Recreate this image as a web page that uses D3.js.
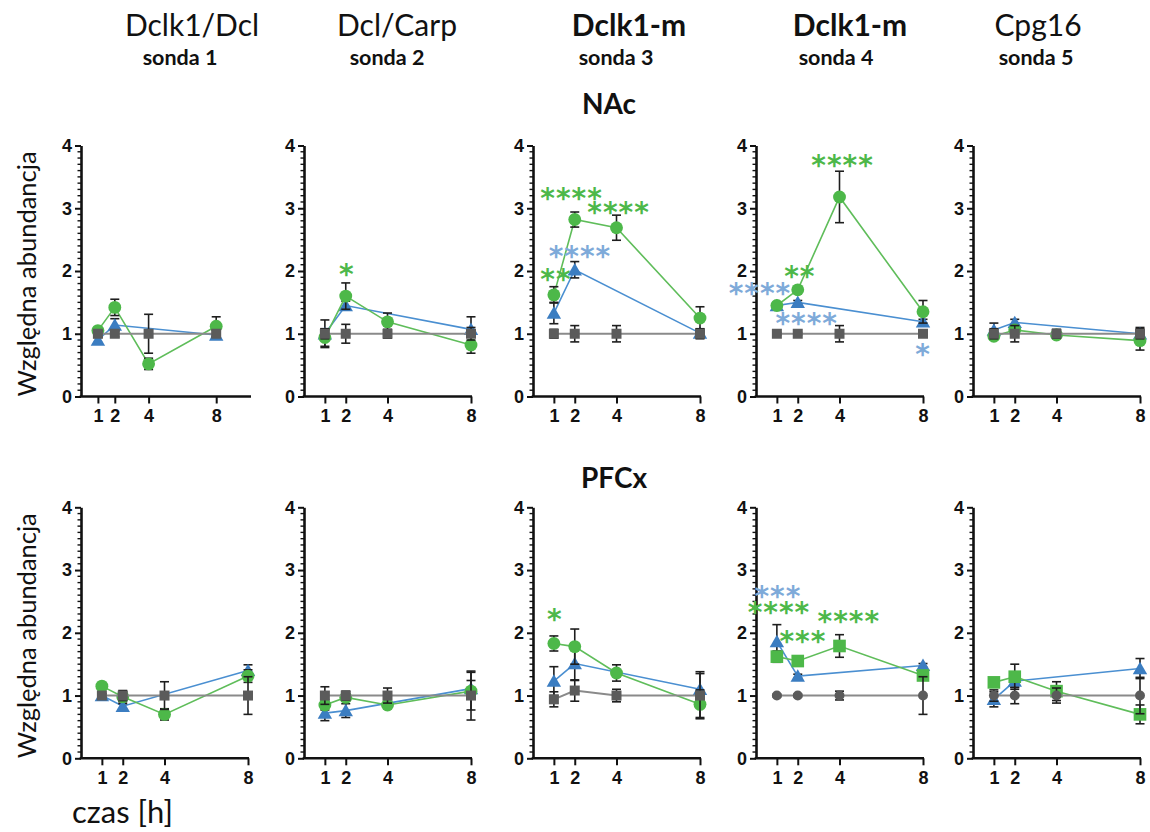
<!DOCTYPE html>
<html>
<head>
<meta charset="utf-8">
<script src="https://cdn.jsdelivr.net/npm/d3@7"></script>
<style>
  body { margin: 0; background: #fff; }
  svg { display: block; }
</style>
</head>
<body>
<svg id="chart" width="1150" height="832"></svg>
<script>
// ---- data ----
const times = [1, 2, 4, 8];
const probeNames = ["Dclk1/Dcl", "Dcl/Carp", "Dclk1-m", "Dclk1-m", "Cpg16"];
const probeLabels = ["sonda 1", "sonda 2", "sonda 3", "sonda 4", "sonda 5"];
const regions = ["NAc", "PFCx"];
const yTicks = [0, 1, 2, 3, 4];
const yLabel = "Względna abundancja";
const xLabel = "czas [h]";

// NAc (top row), one array of 4 time points per probe
const nacCtrl = [[1, 1, 1, 1], [1, 1, 1, 1], [1, 1, 1, 1], [1, 1, 1, 1], [1, 1, 1, 1]];
const nacCtrlErr = [[0.05, 0.05, 0.31, 0.05], [0.08, 0.15, 0.07, 0.1], [0.07, 0.13, 0.13, 0.08], [0.02, 0.02, 0.13, 0.02], [0.08, 0.13, 0.07, 0.08]];
const nacBlue = [[0.9, 1.14, null, 0.98], [1.0, 1.45, null, 1.07], [1.33, 2.02, null, 1.01], [1.45, 1.5, null, 1.19], [1.06, 1.18, null, 1.0]];
const nacBlueErr = [[0.04, 0.1, null, 0.03], [0.22, 0.07, null, 0.2], [0.17, 0.13, null, 0.06], [0.03, 0.03, null, 0.04], [0.11, 0.05, null, 0.1]];
const nacGreen = [[1.05, 1.42, 0.52, 1.12], [0.94, 1.6, 1.19, 0.82], [1.62, 2.82, 2.69, 1.25], [1.45, 1.7, 3.18, 1.35], [0.96, 1.06, 0.98, 0.89]];
const nacGreenErr = [[0.04, 0.13, 0.09, 0.15], [0.14, 0.21, 0.14, 0.13], [0.13, 0.12, 0.2, 0.18], [0.03, 0.03, 0.41, 0.18], [0.04, 0.06, 0.05, 0.15]];

// PFCx (bottom row)
const pfcCtrl = [[1, 1, 1, 1], [1, 1, 1, 1], [0.94, 1.08, 1.0, 1.0], [1, 1, 1, 1], [1, 1, 1, 1]];
const pfcCtrlErr = [[0.03, 0.08, 0.22, 0.3], [0.14, 0.07, 0.12, 0.39], [0.12, 0.17, 0.1, 0.35], [0.02, 0.02, 0.07, 0.3], [0.09, 0.13, 0.12, 0.29]];
const pfcBlue = [[1.0, 0.83, null, 1.4], [0.72, 0.76, null, 1.11], [1.23, 1.51, null, 1.1], [1.86, 1.31, null, 1.48], [0.94, 1.23, null, 1.43]];
const pfcBlueErr = [[0.03, 0.04, null, 0.09], [0.12, 0.11, null, 0.13], [0.23, 0.27, null, 0.28], [0.27, 0.03, null, 0.03], [0.12, 0.1, null, 0.16]];
const pfcGreen = [[1.15, 0.98, 0.7, 1.31], [0.85, 0.97, 0.85, 1.07], [1.83, 1.78, 1.36, 0.86], [1.62, 1.55, 1.79, 1.32], [1.21, 1.3, 1.07, 0.7]];
const pfcGreenErr = [[0.03, 0.08, 0.09, 0.1], [0.08, 0.06, 0.03, 0.3], [0.12, 0.28, 0.13, 0.23], [0.09, 0.03, 0.18, 0.05], [0.03, 0.2, 0.15, 0.15]];

// significance marks: panel index, time position, value position, label, series
const nacStars = [
  { panel: 1, t: 2, v: 2.05, text: "*", series: "green" },
  { panel: 2, t: 1.8, v: 3.26, text: "****", series: "green" },
  { panel: 2, t: 4.05, v: 3.04, text: "****", series: "green" },
  { panel: 2, t: 2.2, v: 2.33, text: "****", series: "blue" },
  { panel: 2, t: 1.05, v: 1.97, text: "**", series: "green" },
  { panel: 3, t: 4.1, v: 3.78, text: "****", series: "green" },
  { panel: 3, t: 2.05, v: 2.02, text: "**", series: "green" },
  { panel: 3, t: 0.14, v: 1.75, text: "****", series: "blue" },
  { panel: 3, t: 2.38, v: 1.27, text: "****", series: "blue" },
  { panel: 3, t: 7.95, v: 0.77, text: "*", series: "blue" }
];
const pfcStars = [
  { panel: 2, t: 1, v: 2.32, text: "*", series: "green" },
  { panel: 3, t: 1.0, v: 2.68, text: "***", series: "blue" },
  { panel: 3, t: 1.05, v: 2.43, text: "****", series: "green" },
  { panel: 3, t: 4.4, v: 2.28, text: "****", series: "green" },
  { panel: 3, t: 2.2, v: 1.97, text: "***", series: "green" }
];

// ---- layout & style ----
const svg = d3.select("#chart");
const colors = {
  ctrl: { mark: "#5b5b5b", line: "#8a8a8a" },
  blue: { mark: "#3b7dc1", line: "#4a8fd1", star: "#7eaad9" },
  green: { mark: "#4db849", line: "#5fbd5a", star: "#4db849" }
};
const panelLeft = [81, 304, 533, 756, 973];
const titleCenter = [192, 397, 629, 850, 1038];
const labelCenter = [180, 387, 616, 836, 1036];
const rows = [
  { name: regions[0], yRange: [396.5, 145.5], xMax: [10, 8, 8, 8, 8], ctrl: nacCtrl, ctrlErr: nacCtrlErr, blue: nacBlue, blueErr: nacBlueErr, green: nacGreen, greenErr: nacGreenErr, stars: nacStars,
    ctrlShape: ["square", "square", "square", "square", "square"], greenShape: ["circle", "circle", "circle", "circle", "circle"], titleX: 609, titleY: 114 },
  { name: regions[1], yRange: [758.3, 507.3], xMax: [8, 8, 8, 8, 8], ctrl: pfcCtrl, ctrlErr: pfcCtrlErr, blue: pfcBlue, blueErr: pfcBlueErr, green: pfcGreen, greenErr: pfcGreenErr, stars: pfcStars,
    ctrlShape: ["square", "square", "square", "circle", "circle"], greenShape: ["circle", "circle", "circle", "square", "square"], titleX: 614, titleY: 488 }
];

const symbolFor = {
  circle: d3.symbol().type(d3.symbolCircle).size(130),
  smallCircle: d3.symbol().type(d3.symbolCircle).size(78),
  square: d3.symbol().type(d3.symbolSquare).size(100),
  bigSquare: d3.symbol().type(d3.symbolSquare).size(160),
  triangle: d3.symbol().type(d3.symbolTriangle).size(90)
};

// column titles
probeNames.forEach((name, i) => {
  svg.append("text")
    .attr("x", titleCenter[i]).attr("y", 36)
    .attr("text-anchor", "middle")
    .style("font-family", "Lato, 'Open Sans', sans-serif")
    .style("font-size", "30px")
    .style("font-weight", i === 2 || i === 3 ? 700 : 400)
    .attr("fill", "#111")
    .text(name);
  svg.append("text")
    .attr("x", labelCenter[i]).attr("y", 65)
    .attr("text-anchor", "middle")
    .style("font-family", "Lato, 'Open Sans', sans-serif")
    .style("font-size", "21.5px")
    .style("font-weight", 700)
    .attr("fill", "#111")
    .text(probeLabels[i]);
});

rows.forEach((row) => {
  svg.append("text")
    .attr("x", row.titleX).attr("y", row.titleY)
    .attr("text-anchor", "middle")
    .style("font-family", "Lato, 'Open Sans', sans-serif")
    .style("font-size", "28px")
    .style("font-weight", 700)
    .attr("fill", "#111")
    .text(row.name);

  const yMid = (row.yRange[0] + row.yRange[1]) / 2;
  svg.append("text")
    .attr("transform", `translate(36,${yMid + 3}) rotate(-90)`)
    .attr("text-anchor", "middle")
    .style("font-family", "Lato, 'Open Sans', sans-serif")
    .style("font-size", "25.5px")
    .attr("fill", "#111")
    .text(yLabel);

  probeNames.forEach((_, p) => {
    const left = panelLeft[p];
    const width = row.xMax[p] === 10 ? 169 : 167;
    const x = d3.scaleLinear().domain([0, row.xMax[p]]).range([left, left + width]);
    const y = d3.scaleLinear().domain([0, 4]).range(row.yRange);
    const g = svg.append("g");

    // minor ticks on y (every 0.1)
    const minor = d3.range(1, 40).filter((k) => k % 10 !== 0).map((k) => k / 10);
    g.append("g")
      .selectAll("line")
      .data(minor)
      .join("line")
      .attr("x1", left - 3.5).attr("x2", left)
      .attr("y1", (d) => y(d)).attr("y2", (d) => y(d))
      .attr("stroke", "#111")
      .attr("stroke-width", 1.4);

    // major y axis
    g.append("g")
      .attr("transform", `translate(${left},0)`)
      .call(d3.axisLeft(y).tickValues(yTicks).tickFormat(d3.format("d")).tickSize(6).tickSizeOuter(0).tickPadding(3))
      .call((a) => a.select(".domain").attr("stroke", "#111").attr("stroke-width", 2.6))
      .call((a) => a.selectAll(".tick line").attr("stroke", "#111").attr("stroke-width", 2))
      .call((a) => a.selectAll("text").attr("fill", "#111").style("font-family", "'Liberation Sans', Arial, sans-serif").style("font-size", "18px").style("font-weight", 700));

    // x axis
    g.append("g")
      .attr("transform", `translate(0,${row.yRange[0]})`)
      .call(d3.axisBottom(x).tickValues(times).tickSize(7).tickSizeOuter(0).tickPadding(6))
      .call((a) => a.select(".domain").attr("stroke", "#111").attr("stroke-width", 2.6).attr("d", `M${left - 1.3},0H${x(row.xMax[p]) + 1}`))
      .call((a) => a.selectAll(".tick line").attr("stroke", "#111").attr("stroke-width", 2))
      .call((a) => a.selectAll("text").attr("fill", "#111").style("font-family", "'Liberation Sans', Arial, sans-serif").style("font-size", "18px").style("font-weight", 700));

    const seriesList = [
      { key: "blue", values: row.blue[p], err: row.blueErr[p], shape: "triangle" },
      { key: "green", values: row.green[p], err: row.greenErr[p], shape: row.greenShape[p] === "square" ? "bigSquare" : "circle" },
      { key: "ctrl", values: row.ctrl[p], err: row.ctrlErr[p], shape: row.ctrlShape[p] === "circle" ? "smallCircle" : "square" }
    ];

    seriesList.forEach((s) => {
      const pts = times.map((t, i) => ({ t, v: s.values[i], e: s.err[i] })).filter((d) => d.v !== null);
      const line = d3.line().x((d) => x(d.t)).y((d) => y(d.v));
      g.append("path")
        .attr("d", line(pts))
        .attr("fill", "none")
        .attr("stroke", colors[s.key].line)
        .attr("stroke-width", s.key === "ctrl" ? 2 : 1.6);

      const eb = g.append("g").attr("stroke", "#1e1e1e").attr("stroke-width", 1.6);
      pts.forEach((d) => {
        const cx = x(d.t);
        const y1 = y(d.v + d.e), y0 = y(d.v - d.e);
        eb.append("line").attr("x1", cx).attr("x2", cx).attr("y1", y1).attr("y2", y0);
        eb.append("line").attr("x1", cx - 4.5).attr("x2", cx + 4.5).attr("y1", y1).attr("y2", y1);
        eb.append("line").attr("x1", cx - 4.5).attr("x2", cx + 4.5).attr("y1", y0).attr("y2", y0);
      });

      g.selectAll(null)
        .data(pts)
        .join("path")
        .attr("transform", (d) => `translate(${x(d.t)},${y(d.v) + (s.shape === "triangle" ? 1.5 : 0)})`)
        .attr("d", symbolFor[s.shape])
        .attr("fill", colors[s.key].mark);
    });

    // significance asterisks
    row.stars.filter((st) => st.panel === p).forEach((st) => {
      g.append("text")
        .attr("x", x(st.t) + 1)
        .attr("y", y(st.v) + 16)
        .attr("text-anchor", "middle")
        .style("font-family", "'DejaVu Sans', sans-serif")
        .style("font-size", "28px")
        .style("font-weight", 700)
        .style("letter-spacing", "1px")
        .attr("fill", colors[st.series].star)
        .text(st.text);
    });
  });
});

svg.append("text")
  .attr("x", 72).attr("y", 823)
  .style("font-family", "Lato, 'Open Sans', sans-serif")
  .style("font-size", "31px")
  .attr("fill", "#111")
  .text(xLabel);
</script>
</body>
</html>
